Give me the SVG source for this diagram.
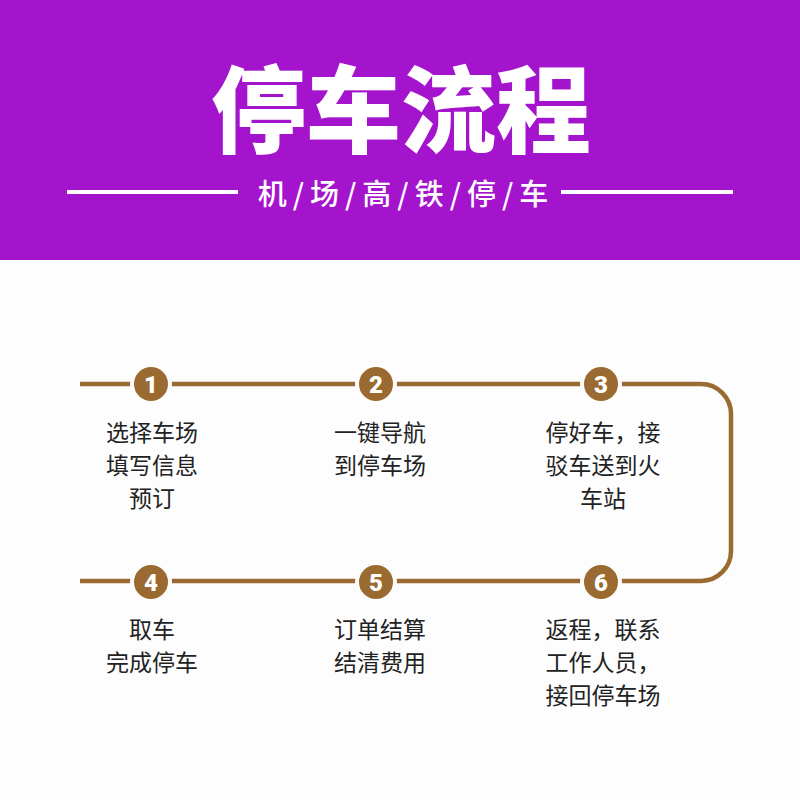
<svg xmlns="http://www.w3.org/2000/svg" width="800" height="800" viewBox="0 0 800 800">
<style>
.title{font-family:"Noto Sans CJK SC","Noto Sans",sans-serif;font-weight:900;fill:#fff;text-anchor:middle}
.sub{font-family:"Noto Sans CJK SC","Noto Sans",sans-serif;font-weight:500;fill:#fff;text-anchor:middle}
.t{font-family:"Noto Sans CJK SC","Noto Sans",sans-serif;font-size:23px;fill:#222;text-anchor:middle}
.num{font-family:Roboto,"Liberation Sans",sans-serif;font-weight:900;font-size:24px;fill:#fff;text-anchor:middle}
.dot{fill:#9B6A30;stroke:#FDFDFD;stroke-width:4}
.wire{fill:none;stroke:#9B6A30;stroke-width:4.5}
</style>
<rect width="800" height="800" fill="#FDFDFD"/>
<rect width="800" height="260" fill="#A514CD"/>
<text class="title" x="401" y="146" font-size="95">停车流程</text>
<line x1="67" y1="192" x2="238" y2="192" stroke="#fff" stroke-width="4"/>
<line x1="561" y1="192" x2="733" y2="192" stroke="#fff" stroke-width="4"/>
<text class="sub" x="406" y="205" font-size="29" letter-spacing="6">机/场/高/铁/停/车</text>
<g id="connectors">
<path class="wire" d="M80 384 H701 A30 30 0 0 1 731 414 V551 A30 30 0 0 1 701 581 H80"/>
</g>
<g id="step1"><circle class="dot" cx="151" cy="384" r="19"/><text class="num" x="151" y="393">1</text>
<text class="t" x="152" y="441">选择车场</text><text class="t" x="152" y="474">填写信息</text><text class="t" x="152" y="507">预订</text></g>
<g id="step2"><circle class="dot" cx="376" cy="384" r="19"/><text class="num" x="376" y="393">2</text>
<text class="t" x="380" y="441">一键导航</text><text class="t" x="380" y="474">到停车场</text></g>
<g id="step3"><circle class="dot" cx="601" cy="384" r="19"/><text class="num" x="601" y="393">3</text>
<text class="t" x="603" y="441">停好车，接</text><text class="t" x="603" y="474">驳车送到火</text><text class="t" x="603" y="507">车站</text></g>
<g id="step4"><circle class="dot" cx="151" cy="582" r="19"/><text class="num" x="151" y="591">4</text>
<text class="t" x="152" y="638">取车</text><text class="t" x="152" y="671">完成停车</text></g>
<g id="step5"><circle class="dot" cx="376" cy="582" r="19"/><text class="num" x="376" y="591">5</text>
<text class="t" x="380" y="638">订单结算</text><text class="t" x="380" y="671">结清费用</text></g>
<g id="step6"><circle class="dot" cx="601" cy="582" r="19"/><text class="num" x="601" y="591">6</text>
<text class="t" x="603" y="638">返程，联系</text><text class="t" x="603" y="671">工作人员，</text><text class="t" x="603" y="704">接回停车场</text></g>
</svg>
